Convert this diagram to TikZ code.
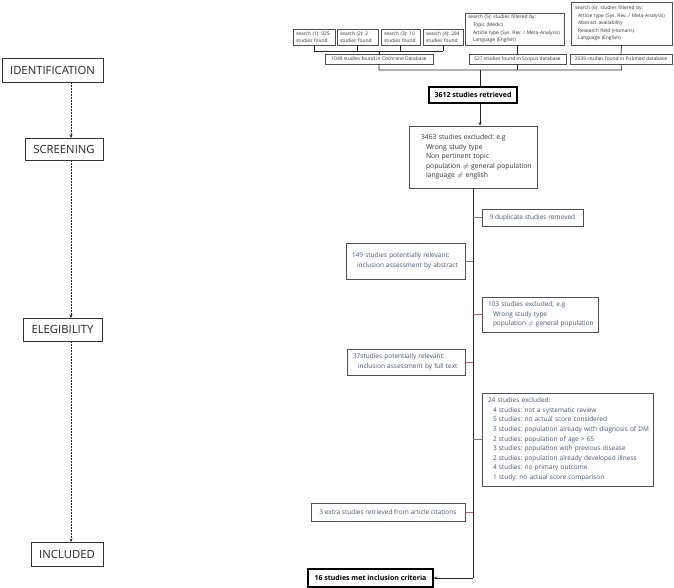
\documentclass[tikz,border=0pt]{standalone}
\usepackage{fontspec}
\setmainfont{Open Sans}
\usetikzlibrary{arrows.meta}
\definecolor{sidetext}{HTML}{4A5674}
\definecolor{conn}{HTML}{A86A7A}
\definecolor{bord}{HTML}{505050}
\newcommand{\pad}[1]{\hspace*{#1pt}}
\frenchspacing
\tikzset{
  stage/.style={draw=black!80, line width=0.6pt, inner sep=0pt, align=center, font=\fontsize{11.3}{13}\selectfont, text=black!85},
  sbox/.style={draw=bord, line width=0.5pt, inner xsep=1pt, inner ysep=0pt, align=left, font=\fontsize{4.9}{7.6}\selectfont, text=black!80},
  cbox/.style={draw=bord, line width=0.5pt, inner sep=0pt, align=center, font=\fontsize{4.9}{7.6}\selectfont, text=black!80},
  mbox/.style={draw=bord, line width=0.5pt, inner xsep=1pt, inner ysep=0pt, align=left, font=\fontsize{6.8}{9.6}\selectfont, text=black!80},
  side/.style={draw=bord, line width=0.6pt, inner xsep=1pt, inner ysep=0pt, align=left, font=\fontsize{6.5}{9.6}\selectfont, text=sidetext},
  sidec/.style={draw=bord, line width=0.6pt, inner sep=0pt, align=center, font=\fontsize{6.5}{9.6}\selectfont, text=sidetext},
  key/.style={draw=black, line width=1.4pt, inner sep=0pt, align=center, font=\fontsize{7}{8}\selectfont\bfseries, text=black},
  line/.style={draw=black!85, line width=0.7pt},
  arr/.style={line, -{Stealth[length=3.5pt,width=3pt]}},
  sline/.style={draw=conn, line width=0.5pt},
  dasharr/.style={draw=black!85, line width=0.7pt, dash pattern=on 2pt off 1pt, -{Stealth[length=3.5pt,width=3pt]}}
}
\begin{document}
\begin{tikzpicture}[x=1pt,y=-1pt]
\useasboundingbox (0,0) rectangle (674,588);

% stage labels
\node[stage, minimum width=101pt, minimum height=24pt] (id) at (52.5,70) {IDENTIFICATION};
\node[stage, minimum width=78pt, minimum height=22pt] (scr) at (64,149) {SCREENING};
\node[stage, minimum width=79pt, minimum height=23pt] (eli) at (62.5,329.5) {ELEGIBILITY};
\node[stage, minimum width=72pt, minimum height=24pt] (inc) at (67,554) {INCLUDED};
\coordinate (d1a) at (71,82); \coordinate (d1b) at (71,138);
\coordinate (d2a) at (71,160); \coordinate (d2b) at (71,318);
\coordinate (d3a) at (71,341); \coordinate (d3b) at (71,542);
\draw[dasharr] (d1a) -- (d1b);
\draw[dasharr] (d2a) -- (d2b);
\draw[dasharr] (d3a) -- (d3b);

% search boxes
\node[sbox, minimum height=16pt, text width=40pt] (s1) at (314,37) {\pad{2}search (1): 925\\\pad{2}studies found};
\node[sbox, minimum height=16pt, text width=39pt] (s2) at (357.5,37) {\pad{2}search (2): 2\\\pad{2}studies found};
\node[sbox, minimum height=16pt, text width=37pt] (s3) at (400.5,37) {\pad{2}search (3): 10\\\pad{2}studies found};
\node[sbox, minimum height=16pt, text width=38pt] (s4) at (443,37) {\pad{2}search (4): 284\\\pad{2}studies found};
\node[cbox, minimum width=108pt, minimum height=10pt] (coch) at (379,59) {1048 studies found in Cochrane Database};
\node[sbox, minimum height=32pt, text width=97pt] (s5) at (514.5,29) {\pad{2}search (5): studies filtered by:\\\pad{7}Topic (Medic)\\\pad{7}Article type (Sys. Rev. / Meta-Analysis)\\\pad{7}Language (English)};
\node[sbox, minimum height=43pt, text width=99pt] (s6) at (621.5,23.5) {\pad{3}search (6): studies filtered by:\\\pad{6}Article type (Sys. Rev. / Meta-Analysis)\\\pad{6}Abstract availability\\\pad{6}Research field (Humans)\\\pad{6}Language (English)};
\node[cbox, minimum width=97pt, minimum height=10pt] (scop) at (517.5,59) {527 studies found in Scopus database};
\node[cbox, minimum width=102pt, minimum height=10pt] (pub) at (621,59) {2039 studies found in Pubmed database};

% connectors of the search stage
\coordinate (b1) at (314,51); \coordinate (b4) at (443,51); \coordinate (bc) at (379,51);
\draw[line] (s1.south) -- (b1);
\draw[line] (s2.south) -- (357.5,51);
\draw[line] (s3.south) -- (400.5,51);
\draw[line] (s4.south) -- (b4);
\draw[line] (b1) -- (b4);
\draw[line] (bc) -- (coch.north);
\draw[line] (s5.south -| scop.north) -- (scop.north);
\draw[line] (s6.south) -- (pub.north);
\coordinate (h1) at (379,70); \coordinate (h2) at (621.5,70); \coordinate (h3) at (480,70);
\draw[line] (coch.south) -- (h1) -- (h2) -- (pub.south);
\draw[line] (scop.south) -- (517.5,70);

% main flow
\node[key, minimum width=88pt, minimum height=16pt] (r3612) at (473,95) {3612 studies retrieved};
\node[mbox, minimum height=62pt, text width=126pt] (e3463) at (473,157) {\pad{11}3463 studies excluded: e.g\\\pad{16}Wrong study type\\\pad{16}Non pertinent topic\\\pad{16}population $\neq$ general population\\\pad{16}language $\neq$ english};
\draw[line] (h3) -- (h3 |- r3612.north);
\draw[arr] (h3 |- r3612.south) -- (h3 |- e3463.north);

\node[sidec, minimum width=101pt, minimum height=17pt] (dup) at (532.5,217.5) {9 duplicate studies removed};
\node[side, minimum height=36pt, text width=117pt] (p149) at (405.5,261) {\pad{5}149 studies potentially relevant:\\\pad{10}inclusion assessment by abstract};
\node[side, minimum height=35pt, text width=114pt] (e103) at (540,314.5) {\pad{5}103 studies excluded; e.g\\\pad{10}Wrong study type\\\pad{10}population $\neq$ general population};
\node[side, minimum height=26pt, text width=116pt] (p37) at (406,362) {\pad{5}37studies potentially relevant:\\\pad{10}inclusion assessment by full text};
\node[side, minimum height=93pt, text width=169pt] (e24) at (567.5,439.5) {\pad{5}24 studies excluded:\\\pad{10}4 studies: not a systematic review\\\pad{10}5 studies: no actual score considered\\\pad{10}3 studies: population already with diagnosis of DM\\\pad{10}2 studies: population of age > 65\\\pad{10}3 studies: population with previous disease\\\pad{10}2 studies: population already developed illness\\\pad{10}4 studies: no primary outcome\\\pad{10}1 study: no actual score comparison};
\node[sidec, minimum width=154pt, minimum height=18pt] (x3) at (388,512) {3 extra studies retrieved from article citations};
\node[key, minimum width=125pt, minimum height=18pt] (f16) at (370.5,578) {16 studies met inclusion criteria};

\coordinate (mbot) at (473,578);
\draw[line] (e3463.south) -- (mbot);
\draw[arr] (mbot) -- (f16.east);

\draw[sline] (473,217.5) -- (dup.west);
\draw[sline] (473,261) -- (p149.east);
\draw[sline] (473,314.5) -- (e103.west);
\draw[sline] (473,362) -- (p37.east);
\draw[sline] (473,439.5) -- (e24.west);
\draw[sline] (473,512) -- (x3.east);
\end{tikzpicture}
\end{document}
